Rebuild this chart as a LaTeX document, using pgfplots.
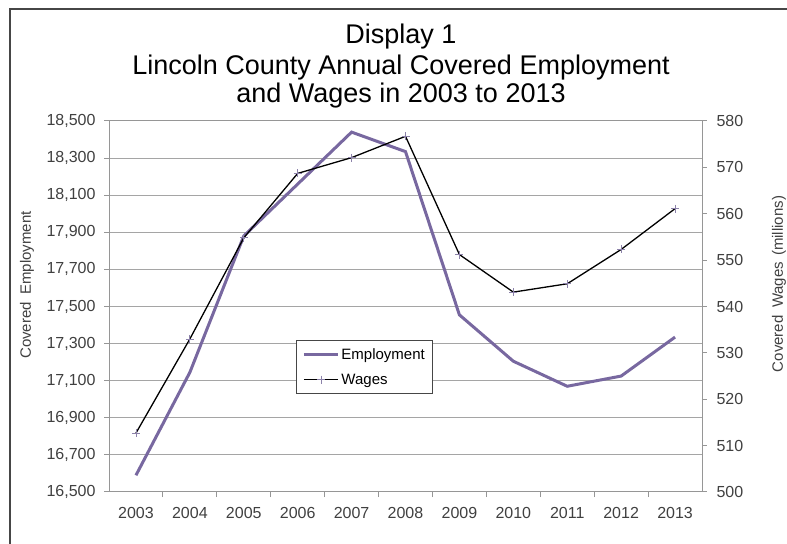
\documentclass[border=0pt]{standalone}
\usepackage{pgfplots}
\pgfplotsset{compat=1.18}
\usepackage{fontspec}
\setmainfont{Liberation Sans}
\definecolor{emp}{RGB}{120,104,160}
\definecolor{markc}{RGB}{140,130,170}
\definecolor{gridc}{RGB}{165,165,165}
\definecolor{axc}{RGB}{150,150,150}
\definecolor{txt}{RGB}{64,64,64}
\definecolor{framec}{RGB}{70,70,70}
\begin{document}
\begin{tikzpicture}
\useasboundingbox (0bp,0bp) rectangle (787bp,544bp);
\draw[line width=2bp, framec] (10bp,-5bp) -- (10bp,535bp) -- (800bp,535bp);
\node[anchor=base,font=\fontsize{27bp}{30bp}\selectfont] at (401bp,500bp) {Display 1};
\node[anchor=base,font=\fontsize{27bp}{30bp}\selectfont] at (401bp,469bp) {Lincoln County Annual Covered Employment};
\node[anchor=base,font=\fontsize{27bp}{30bp}\selectfont] at (401bp,441bp) {and Wages in 2003 to 2013};
\node[rotate=90,font=\fontsize{15bp}{18bp}\selectfont,text=txt] at (27bp,259bp) {Covered\hspace{0.5em}Employment};
\node[rotate=90,font=\fontsize{15bp}{18bp}\selectfont,text=txt] at (779bp,260bp) {Covered\hspace{0.5em}Wages\hspace{0.4em}(millions)};
\begin{axis}[
  at={(109bp,52bp)}, anchor=south west, scale only axis,
  width=593bp, height=371bp,
  xmin=2002.5, xmax=2013.5, ymin=16500, ymax=18500,
  xtick={2003,2004,2005,2006,2007,2008,2009,2010,2011,2012,2013},
  xticklabels={2003,2004,2005,2006,2007,2008,2009,2010,2011,2012,2013},
  minor xtick={2003.5,2004.5,2005.5,2006.5,2007.5,2008.5,2009.5,2010.5,2011.5,2012.5},
  major x tick style={draw=none},
  ytick={16500,16700,16900,17100,17300,17500,17700,17900,18100,18300,18500},
  scaled y ticks=false,
  yticklabel style={/pgf/number format/fixed, /pgf/number format/1000 sep={,}, xshift=-5bp},
  xticklabel style={yshift=-7bp},
  xtick pos=bottom, ytick pos=left,
  tick align=outside, major tick length=5bp, minor tick length=5bp,
  ymajorgrids, grid style={gridc, line width=1bp},
  axis line style={axc, line width=1bp},
  tick style={axc, line width=1bp},
  tick label style={font=\fontsize{16bp}{18bp}\selectfont, text=txt},
  /pgf/number format/assume math mode=true,
]
\addplot[emp, line width=3bp] coordinates {
(2003,16590) (2004,17145) (2005,17880) (2006,18160) (2007,18440) (2008,18335)
(2009,17455) (2010,17205) (2011,17070) (2012,17125) (2013,17335)};
\end{axis}
\begin{axis}[
  at={(109bp,52bp)}, anchor=south west, scale only axis,
  width=593bp, height=371bp,
  xmin=2002.5, xmax=2013.5, ymin=500, ymax=580,
  axis x line=none, axis y line*=right,
  ytick={500,510,520,530,540,550,560,570,580},
  yticklabel style={xshift=6bp},
  tick align=outside, major tick length=5bp,
  axis line style={axc, line width=1bp, -},
  every outer y axis line/.append style={-},
  tick style={axc, line width=1bp},
  tick label style={font=\fontsize{16bp}{18bp}\selectfont, text=txt},
  /pgf/number format/assume math mode=true,
  legend image code/.code={\draw[mark repeat=2,mark phase=2,#1] plot coordinates {(0bp,0bp) (17bp,0bp) (34bp,0bp)};},
  legend style={at={(0.3153,0.4097)}, anchor=north west, draw=framec, line width=1bp,
    font=\fontsize{15bp}{17bp}\selectfont, row sep=9bp, inner xsep=6bp, inner ysep=6bp},
  legend cell align=left,
]
\addlegendimage{emp, line width=3bp}
\addlegendentry{Employment}
\addplot[black, line width=1.3bp, mark=+, mark size=4bp, mark options={markc, line width=0.8bp}] coordinates {
(2003,512.7) (2004,533.0) (2005,554.8) (2006,568.7) (2007,572.1) (2008,576.7)
(2009,551.2) (2010,543.1) (2011,544.9) (2012,552.3) (2013,561.1)};
\addlegendentry{Wages}
\end{axis}
\end{tikzpicture}
\end{document}
